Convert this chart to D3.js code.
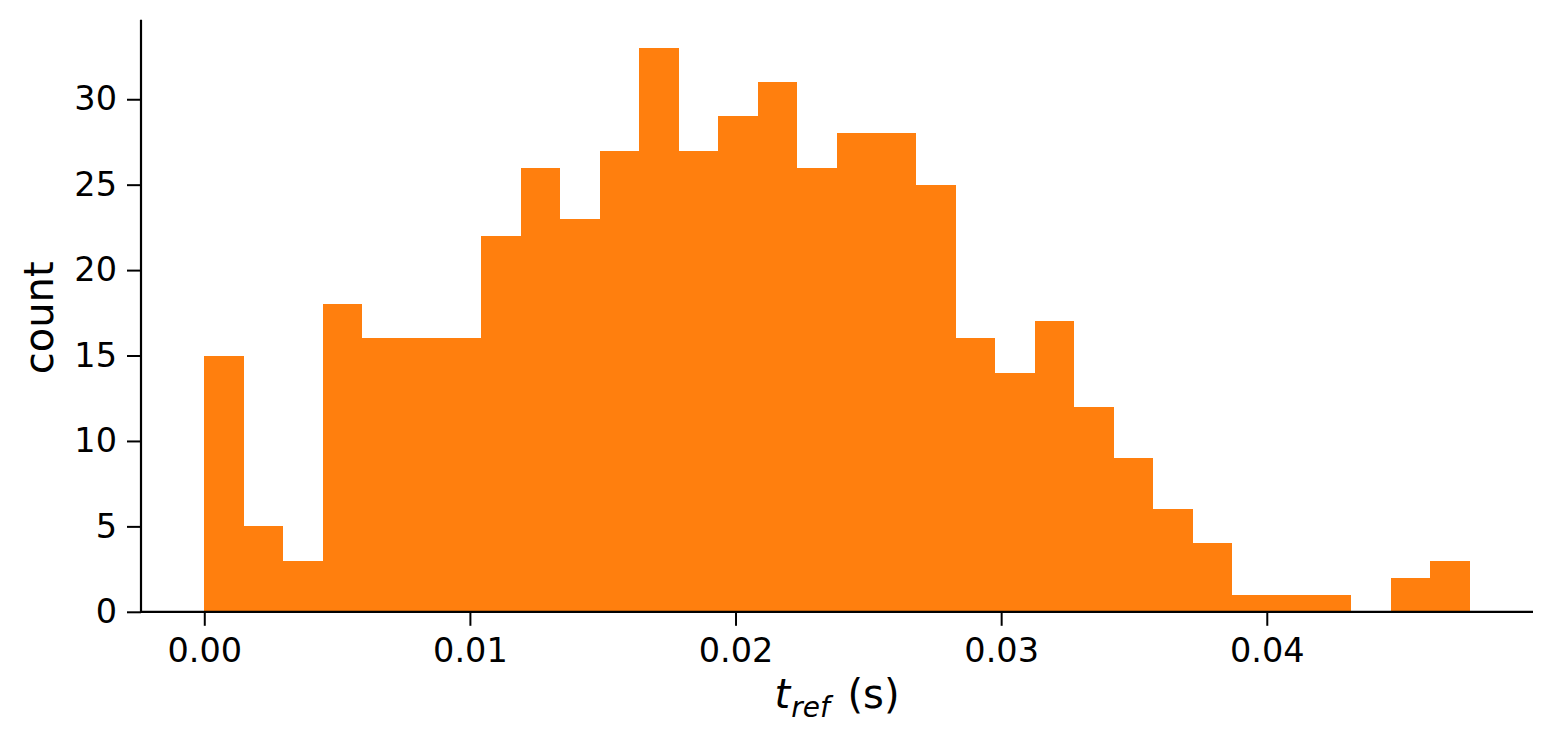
<!DOCTYPE html>
<html>
<head>
<meta charset="utf-8">
<script src="https://cdn.jsdelivr.net/npm/d3@7"></script>
<style>
  html, body { margin: 0; padding: 0; background: #ffffff; }
  svg { display: block; font-family: "DejaVu Sans", sans-serif; }
</style>
</head>
<body>
<svg id="chart" width="1552" height="744"></svg>
<script>
// ---- data ----
const binStart = 0.0;          // left edge of first bin (s)
const binEnd = 0.04764;        // right edge of last bin (s)
const counts = [15, 5, 3, 18, 16, 16, 16, 22, 26, 23, 27, 33, 27, 29, 31, 26,
                28, 28, 25, 16, 14, 17, 12, 9, 6, 4, 1, 1, 1, 0, 2, 3];
const xTicks = [0.00, 0.01, 0.02, 0.03, 0.04];
const xTickLabels = ["0.00", "0.01", "0.02", "0.03", "0.04"];
const yTicks = [0, 5, 10, 15, 20, 25, 30];
const yTickLabels = ["0", "5", "10", "15", "20", "25", "30"];
const yLabel = "count";

// ---- layout ----
const plot = { left: 141, right: 1533, top: 19.8, bottom: 611.8 };
const barColor = "#ff7f0e";

const nBins = counts.length;
const binW = (binEnd - binStart) / nBins;
const bins = counts.map((c, i) => ({ x0: binStart + i * binW, x1: binStart + (i + 1) * binW, n: c }));

const span = binEnd - binStart;
const x = d3.scaleLinear()
  .domain([binStart - 0.05 * span, binEnd + 0.05 * span])
  .range([plot.left, plot.right]);
const y = d3.scaleLinear()
  .domain([0, d3.max(counts) * 1.05])
  .range([plot.bottom, plot.top]);

const svg = d3.select("#chart");

// bars
svg.append("g")
  .selectAll("rect")
  .data(bins.filter(d => d.n > 0))
  .join("rect")
  .attr("x", d => x(d.x0))
  .attr("width", d => x(d.x1) - x(d.x0))
  .attr("y", d => y(d.n))
  .attr("height", d => y(0) - y(d.n))
  .attr("fill", barColor)
  .attr("shape-rendering", "crispEdges");

// x axis
const xAxis = d3.axisBottom(x)
  .tickValues(xTicks)
  .tickFormat((d, i) => xTickLabels[i])
  .tickSize(14)
  .tickSizeOuter(0)
  .tickPadding(12.5);
const gx = svg.append("g")
  .attr("transform", `translate(0,${plot.bottom})`)
  .call(xAxis);
gx.select(".domain").remove();
gx.append("line")
  .attr("x1", plot.left).attr("x2", plot.right)
  .attr("stroke", "#000").attr("stroke-width", 2.2);
gx.selectAll(".tick line").attr("stroke", "#000").attr("stroke-width", 2);
gx.selectAll(".tick text")
  .attr("fill", "#000")
  .style("font-family", "'DejaVu Sans', sans-serif")
  .style("font-size", "33.5px");

// y axis
const yAxis = d3.axisLeft(y)
  .tickValues(yTicks)
  .tickFormat((d, i) => yTickLabels[i])
  .tickSize(14)
  .tickSizeOuter(0)
  .tickPadding(10);
const gy = svg.append("g")
  .attr("transform", `translate(${plot.left},0)`)
  .call(yAxis);
gy.select(".domain").remove();
gy.append("line")
  .attr("y1", plot.top).attr("y2", plot.bottom + 1.1)
  .attr("stroke", "#000").attr("stroke-width", 2.2);
gy.selectAll(".tick line").attr("stroke", "#000").attr("stroke-width", 2);
gy.selectAll(".tick text")
  .attr("fill", "#000")
  .style("font-family", "'DejaVu Sans', sans-serif")
  .style("font-size", "33.5px");

// x label: t_ref (s)
const xl = svg.append("text")
  .attr("x", (plot.left + plot.right) / 2)
  .attr("y", 708)
  .attr("text-anchor", "middle")
  .attr("fill", "#000")
  .style("font-size", "40px");
xl.append("tspan").attr("font-style", "italic").text("t");
xl.append("tspan").attr("font-style", "italic").attr("font-size", "28px").attr("dy", 9).attr("dx", 1).text("ref");
xl.append("tspan").attr("dy", -9).attr("dx", 5).text(" (s)");

// y label
svg.append("text")
  .attr("transform", `translate(53,${(plot.top + plot.bottom) / 2 + 2}) rotate(-90)`)
  .attr("text-anchor", "middle")
  .attr("fill", "#000")
  .style("font-size", "40px")
  .text(yLabel);
</script>
</body>
</html>
